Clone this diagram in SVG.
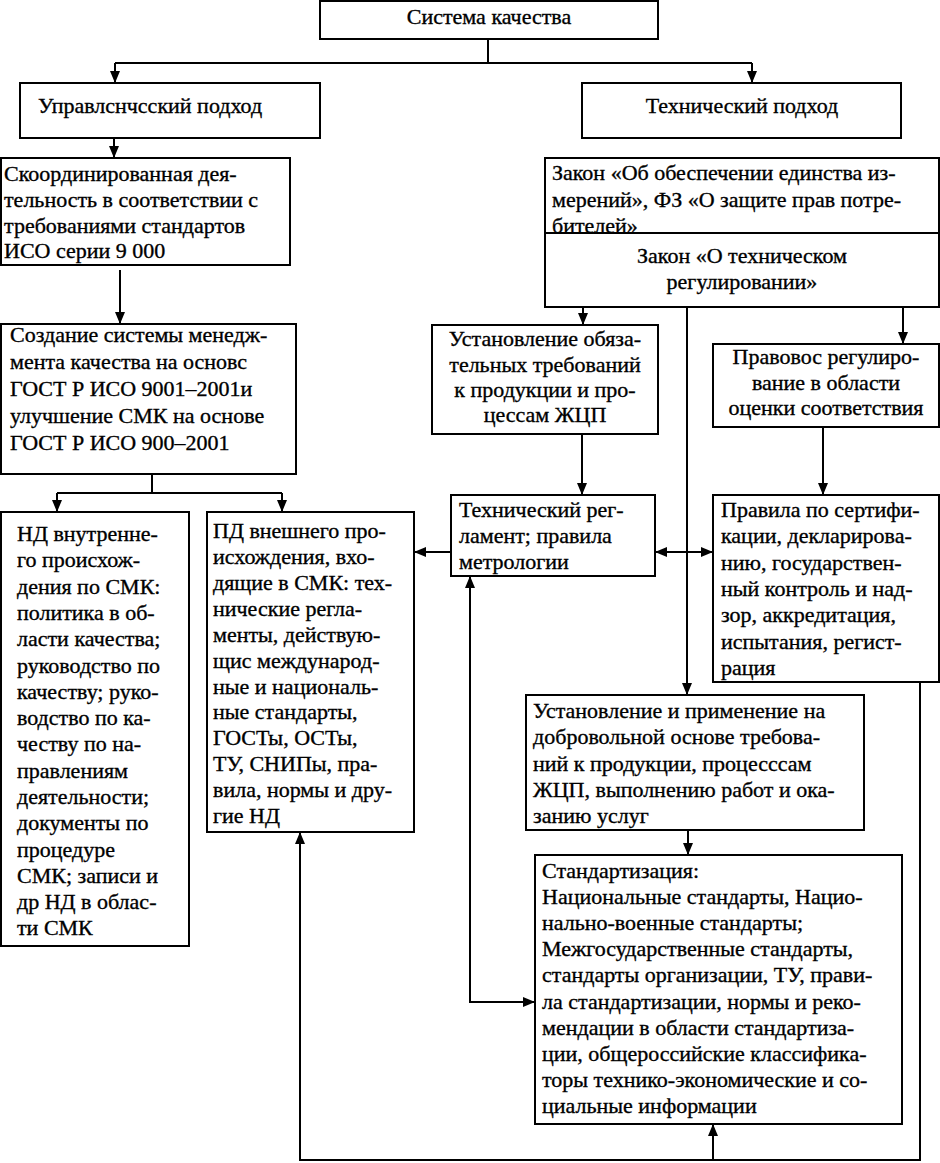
<svg xmlns="http://www.w3.org/2000/svg" width="940" height="1163" viewBox="0 0 940 1163">
<style>
rect{fill:#fff;stroke:#000;stroke-width:2}
text{font-family:"Liberation Serif","Times New Roman",serif;font-size:22px;fill:#000;stroke:#000;stroke-width:0.35}
.c{text-anchor:middle}
.ln{fill:none;stroke:#000;stroke-width:2}
</style>
<defs>
<marker id="ah" viewBox="0 0 12 10" refX="12" refY="5" markerWidth="12" markerHeight="10" markerUnits="userSpaceOnUse" orient="auto-start-reverse"><path d="M0,0 L12,5 L0,10 z" fill="#000"/></marker>
</defs>
<rect width="940" height="1163" style="fill:#fff;stroke:none"/>
<g id="connectors">
<path class="ln" d="M488,39 V63"/>
<path class="ln" d="M115,63 H752"/>
<path class="ln" d="M115,63 V83" marker-end="url(#ah)"/>
<path class="ln" d="M752,63 V83" marker-end="url(#ah)"/>
<path class="ln" d="M114,138 V158" marker-end="url(#ah)"/>
<path class="ln" d="M120,270 V324" marker-end="url(#ah)"/>
<path class="ln" d="M152,474 V493"/>
<path class="ln" d="M57,493 H282"/>
<path class="ln" d="M57,493 V512" marker-end="url(#ah)"/>
<path class="ln" d="M282,493 V512" marker-end="url(#ah)"/>
<path class="ln" d="M583,307 V325" marker-end="url(#ah)"/>
<path class="ln" d="M687,307 V695" marker-end="url(#ah)"/>
<path class="ln" d="M903,307 V344" marker-end="url(#ah)"/>
<path class="ln" d="M582,434 V495" marker-end="url(#ah)"/>
<path class="ln" d="M823,427 V495" marker-end="url(#ah)"/>
<path class="ln" d="M451,552 H414" marker-end="url(#ah)"/>
<path class="ln" d="M655,552 H713" marker-start="url(#ah)" marker-end="url(#ah)"/>
<path class="ln" d="M688,830 V855" marker-end="url(#ah)"/>
<path class="ln" d="M470,576 V1002 H535" marker-start="url(#ah)" marker-end="url(#ah)"/>
<path class="ln" d="M920,682 V1160 H300 V832" marker-end="url(#ah)"/>
<path class="ln" d="M713,1160 V1124" marker-end="url(#ah)"/>
</g>
<g id="sys">
<rect x="320" y="1" width="338" height="38"/>
<text class="c" x="489" y="24">Система качества</text>
</g>
<g id="upr">
<rect x="20" y="83" width="300" height="55"/>
<text x="38" y="113">Управлснчсский подход</text>
</g>
<g id="tech">
<rect x="582" y="83" width="319" height="55"/>
<text class="c" x="742" y="113">Технический подход</text>
</g>
<g id="skoord">
<rect x="1" y="158" width="289" height="107"/>
<text x="4" y="181">Скоординированная дея-</text>
<text x="4" y="207">тельность в соответствии с</text>
<text x="4" y="233">требованиями стандартов</text>
<text x="4" y="258">ИСО серии 9 000</text>
</g>
<g id="sozd">
<rect x="1" y="324" width="295" height="150"/>
<text x="10" y="342">Создание системы менедж-</text>
<text x="10" y="369">мента качества на основс</text>
<text x="10" y="396">ГОСТ Р ИСО 9001–2001и</text>
<text x="10" y="423">улучшение СМК на основе</text>
<text x="10" y="450">ГОСТ Р ИСО 900–2001</text>
</g>
<g id="ndin">
<rect x="1" y="512" width="188" height="434"/>
<text x="17" y="541">НД внутренне-</text>
<text x="17" y="567">го происхож-</text>
<text x="17" y="594">дения по СМК:</text>
<text x="17" y="620">политика в об-</text>
<text x="17" y="646">ласти качества;</text>
<text x="17" y="673">руководство по</text>
<text x="17" y="699">качеству; руко-</text>
<text x="17" y="725">водство по ка-</text>
<text x="17" y="751">честву по на-</text>
<text x="17" y="778">правлениям</text>
<text x="17" y="804">деятельности;</text>
<text x="17" y="830">документы по</text>
<text x="17" y="857">процедуре</text>
<text x="17" y="883">СМК; записи и</text>
<text x="17" y="909">др НД в облас-</text>
<text x="17" y="935">ти СМК</text>
</g>
<g id="pdex">
<rect x="207" y="512" width="207" height="320"/>
<text x="213" y="538">ПД внешнего про-</text>
<text x="213" y="564">исхождения, вхо-</text>
<text x="213" y="590">дящие в СМК: тех-</text>
<text x="213" y="616">нические регла-</text>
<text x="213" y="642">менты, действую-</text>
<text x="213" y="668">щис международ-</text>
<text x="213" y="694">ные и националь-</text>
<text x="213" y="719">ные стандарты,</text>
<text x="213" y="745">ГОСТы, ОСТы,</text>
<text x="213" y="771">ТУ, СНИПы, пра-</text>
<text x="213" y="797">вила, нормы и дру-</text>
<text x="213" y="823">гие НД</text>
</g>
<g id="zakon">
<rect x="545" y="158" width="394" height="149"/>
<text x="552" y="180">Закон «Об обеспечении единства из-</text>
<text x="552" y="207">мерений», ФЗ «О защите прав потре-</text>
<text x="552" y="233">бителей»</text>
<path class="ln" d="M545,233 H939"/>
<text class="c" x="742" y="263">Закон «О техническом</text>
<text class="c" x="742" y="289">регулировании»</text>
</g>
<g id="ustob">
<rect x="432" y="325" width="226" height="109"/>
<text class="c" x="545" y="346">Установление обяза-</text>
<text class="c" x="545" y="372">тельных требований</text>
<text class="c" x="545" y="397">к продукции и про-</text>
<text class="c" x="545" y="422">цессам ЖЦП</text>
</g>
<g id="pravovos">
<rect x="713" y="344" width="226" height="83"/>
<text class="c" x="826" y="364">Правовос регулиро-</text>
<text class="c" x="826" y="390">вание в области</text>
<text class="c" x="826" y="415">оценки соответствия</text>
</g>
<g id="techreg">
<rect x="451" y="495" width="204" height="81"/>
<text x="459" y="517">Технический рег-</text>
<text x="459" y="543">ламент; правила</text>
<text x="459" y="569">метрологии</text>
</g>
<g id="pravila">
<rect x="713" y="495" width="226" height="187"/>
<text x="721" y="517">Правила по сертифи-</text>
<text x="721" y="543">кации, декларирова-</text>
<text x="721" y="570">нию, государствен-</text>
<text x="721" y="596">ный контроль и над-</text>
<text x="721" y="622">зор, аккредитация,</text>
<text x="721" y="649">испытания, регист-</text>
<text x="721" y="675">рация</text>
</g>
<g id="ustprim">
<rect x="526" y="695" width="338" height="135"/>
<text x="533" y="718">Установление и применение на</text>
<text x="533" y="744">добровольной основе требова-</text>
<text x="533" y="771">ний к продукции, процесссам</text>
<text x="533" y="797">ЖЦП, выполнению работ и ока-</text>
<text x="533" y="823">занию услуг</text>
</g>
<g id="stand">
<rect x="535" y="855" width="367" height="269"/>
<text x="542" y="878">Стандартизация:</text>
<text x="542" y="904">Национальные стандарты, Нацио-</text>
<text x="542" y="930">нально-военные стандарты;</text>
<text x="542" y="956">Межгосударственные стандарты,</text>
<text x="542" y="982">стандарты организации, ТУ, прави-</text>
<text x="542" y="1009">ла стандартизации, нормы и реко-</text>
<text x="542" y="1035">мендации в области стандартиза-</text>
<text x="542" y="1061">ции, общероссийские классифика-</text>
<text x="542" y="1087">торы технико-экономические и со-</text>
<text x="542" y="1113">циальные информации</text>
</g>
</svg>
